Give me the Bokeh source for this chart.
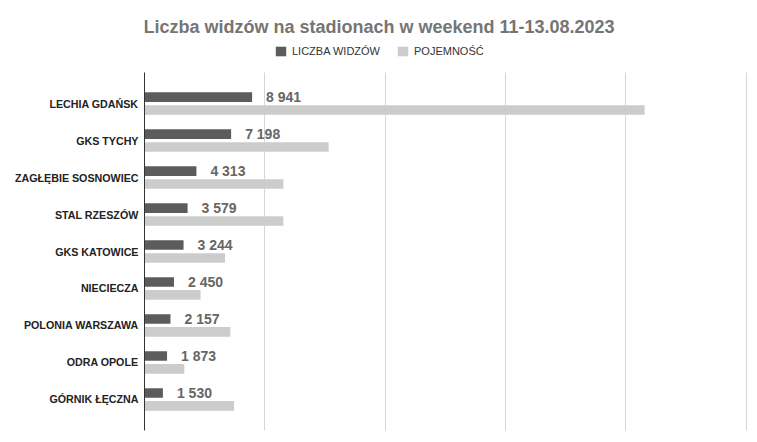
from bokeh.plotting import figure
from bokeh.layouts import column
from bokeh.models import (ColumnDataSource, Range1d, FactorRange, Legend, LegendItem,
                          FixedTicker, Grid, Label)
from bokeh.transform import dodge
from bokeh.core.properties import value
from bokeh.embed import file_html
from bokeh.resources import INLINE

teams = ["LECHIA GDAŃSK", "GKS TYCHY", "ZAGŁĘBIE SOSNOWIEC", "STAL RZESZÓW", "GKS KATOWICE",
         "NIECIECZA", "POLONIA WARSZAWA", "ODRA OPOLE", "GÓRNIK ŁĘCZNA"]
viewers = [8941, 7198, 4313, 3579, 3244, 2450, 2157, 1873, 1530]
capacity = [41550, 15300, 11540, 11540, 6690, 4660, 7130, 3310, 7440]
x_ticks = [0, 10000, 20000, 30000, 40000, 50000]
series_names = ["LICZBA WIDZÓW", "POJEMNOŚĆ"]
title_text = "Liczba widzów na stadionach w weekend 11-13.08.2023"

FONT = "Liberation Sans"
DARK = "#5c5c5c"
LIGHT = "#cccccc"
W = 757
BL, BR = 144, 10          # left / right borders -> frame spans x 144..747
X_END = 50100             # a little room so the last grid line is not clipped
TOP_H = 72
MAIN_H = 362

# ---------- header: title + legend (frame aligned with main frame; data units = pixels) ----------
head = figure(width=W, height=TOP_H, x_range=Range1d(BL, W - BR), y_range=Range1d(TOP_H, 0),
              output_backend="svg", toolbar_location=None, title=None,
              x_axis_location=None, y_axis_location=None,
              min_border_left=BL, min_border_right=BR, min_border_top=0, min_border_bottom=0)
head.outline_line_color = None
head.grid.grid_line_color = None

head.add_layout(Label(x=W / 2, y=26, text=title_text, text_align="center",
                      text_baseline="alphabetic", text_font=FONT, text_font_size="18px",
                      text_font_style="bold", text_color="#757575"))

# zero-size proxies so the legend can draw its swatches
d1 = head.hbar(y=[0], left=[0], right=[0], height=0, color=DARK, line_color=None)
d2 = head.hbar(y=[0], left=[0], right=[0], height=0, color=LIGHT, line_color=None)
legend = Legend(items=[LegendItem(label=series_names[0], renderers=[d1]),
                       LegendItem(label=series_names[1], renderers=[d2])],
                orientation="horizontal", location=(130, 15),
                glyph_width=13, glyph_height=12, label_standoff=5, spacing=16,
                label_text_font=FONT, label_text_font_size="11px", label_text_color="#333333",
                label_height=12, padding=0, margin=0, border_line_color=None,
                background_fill_alpha=0)
head.add_layout(legend, "center")

# ---------- main chart ----------
src = ColumnDataSource(dict(
    team=teams,
    viewers=viewers,
    capacity=capacity,
    label=[f"{v:,}".replace(",", " ") for v in viewers],
))

yr = FactorRange(factors=list(reversed(teams)), range_padding=0.34, range_padding_units="absolute")

p = figure(width=W, height=MAIN_H, y_range=yr, x_range=Range1d(x_ticks[0], X_END),
           output_backend="svg", toolbar_location=None, x_axis_location=None, title=None,
           min_border_left=BL, min_border_right=BR, min_border_bottom=4, min_border_top=0)

p.outline_line_color = None
p.ygrid.grid_line_color = None
p.add_layout(Grid(dimension=0, ticker=FixedTicker(ticks=x_ticks), grid_line_color="#d6d6d6"))

r1 = p.hbar(y=dodge("team", 0.174, range=p.y_range), right="viewers", height=0.26,
            source=src, color=DARK, line_color=None)
r2 = p.hbar(y=dodge("team", -0.174, range=p.y_range), right="capacity", height=0.26,
            source=src, color=LIGHT, line_color=None)

p.text(x="viewers", y=dodge("team", 0.174, range=p.y_range), text="label", source=src,
       x_offset=14, text_baseline="middle", text_align="left",
       text_font=value(FONT), text_font_style="bold", text_font_size="14px", text_color="#666666")

ax = p.yaxis[0]
ax.axis_line_color = "#333333"
ax.major_tick_line_color = None
ax.minor_tick_line_color = None
ax.major_tick_out = 0
ax.major_tick_in = 0
ax.minor_tick_out = 0
ax.major_label_text_font = FONT
ax.major_label_text_font_style = "bold"
ax.major_label_text_font_size = "10.7px"
ax.major_label_text_color = "#222222"
ax.major_label_standoff = 6

layout = column(head, p, spacing=0)
open("out.html", "w").write(file_html(layout, INLINE))
